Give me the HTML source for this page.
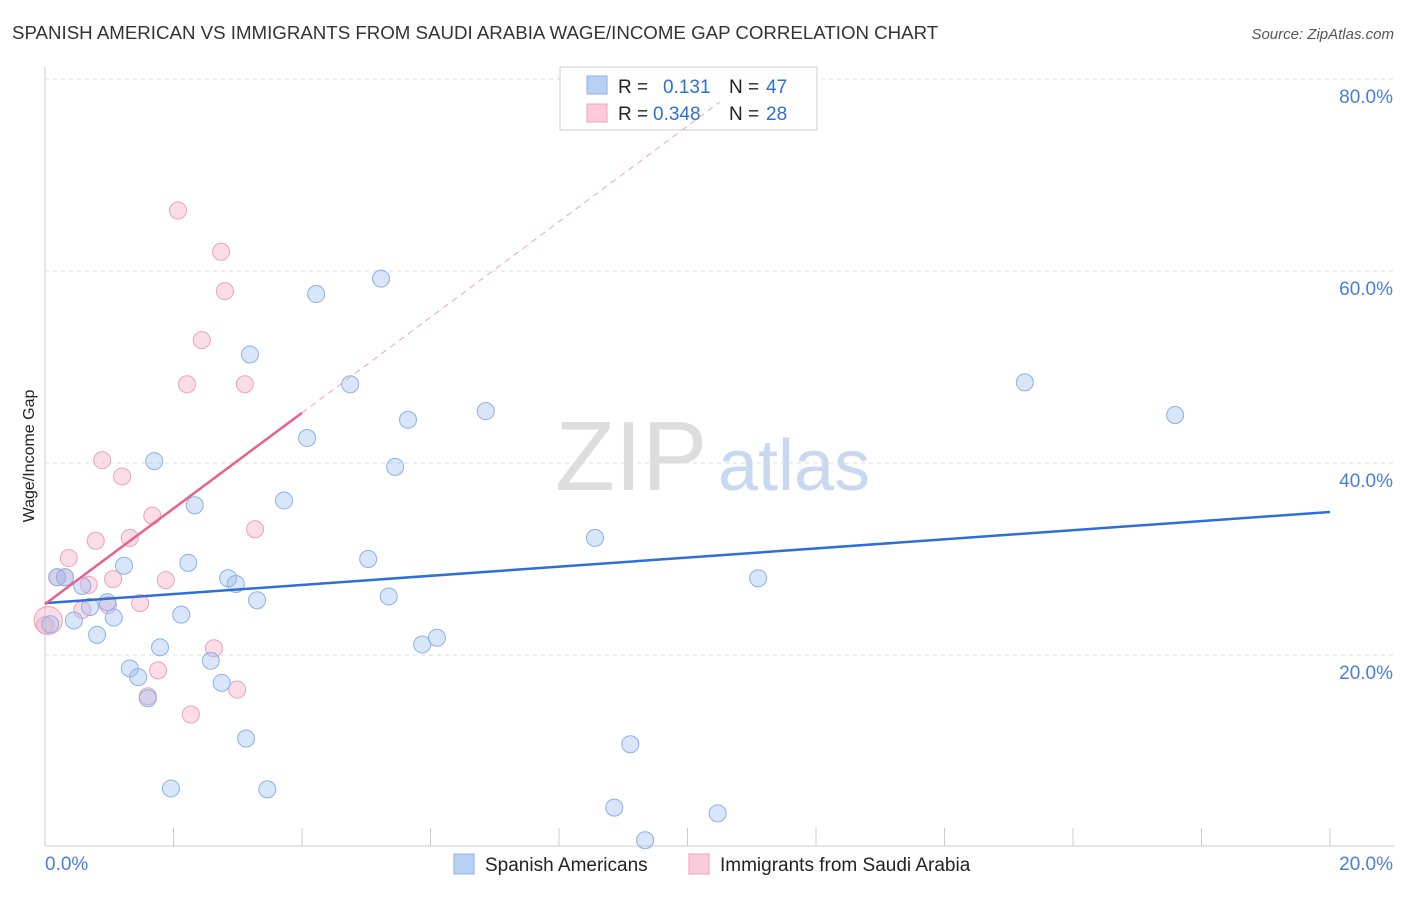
<!DOCTYPE html>
<html><head><meta charset="utf-8"><style>
body{margin:0;background:#fff;font-family:"Liberation Sans",sans-serif}
svg text{font-family:"Liberation Sans",sans-serif}
</style></head><body>
<svg id="c" width="1406" height="892" xmlns="http://www.w3.org/2000/svg">
<text x="12" y="39" font-size="18.7" fill="#333">SPANISH AMERICAN VS IMMIGRANTS FROM SAUDI ARABIA WAGE/INCOME GAP CORRELATION CHART</text>
<text x="1394" y="39" font-size="15" fill="#555" text-anchor="end" font-style="italic">Source: ZipAtlas.com</text>
<text transform="translate(34,456) rotate(-90)" font-size="16" fill="#222" text-anchor="middle">Wage/Income Gap</text>
<text x="555" y="490" font-size="98" fill="#ddd" font-family="Liberation Serif">ZIP</text>
<text x="718" y="490" font-size="72" fill="#c8d8f0">atlas</text>
<g id="grid"></g><g id="pts"></g>
<g>
<rect x="560" y="67" width="257" height="63" fill="rgba(255,255,255,0.85)" stroke="#ccc"/>
<rect x="587" y="76" width="20" height="18" fill="#b9d0f5" stroke="#8ab0e8"/>
<rect x="587" y="104" width="20" height="18" fill="#fbcadb" stroke="#f0a0bb"/>
<text x="618" y="93" font-size="19" fill="#222">R =</text><text x="663" y="93" font-size="19" fill="#2d6fd6">0.131</text>
<text x="729" y="93" font-size="19" fill="#222">N =</text><text x="766" y="93" font-size="19" fill="#2d6fd6">47</text>
<text x="618" y="120" font-size="19" fill="#222">R =</text><text x="653" y="120" font-size="19" fill="#2d6fd6">0.348</text>
<text x="729" y="120" font-size="19" fill="#222">N =</text><text x="766" y="120" font-size="19" fill="#2d6fd6">28</text>
</g>
<g id="lines"></g>
<g>
<rect x="454" y="854" width="20" height="20" fill="#b9d0f5" stroke="#8ab0e8"/>
<text x="485" y="871" font-size="19" fill="#222">Spanish Americans</text>
<rect x="689" y="854" width="20" height="20" fill="#fbcadb" stroke="#f0a0bb"/>
<text x="720" y="871" font-size="19" fill="#222">Immigrants from Saudi Arabia</text>
</g>
</svg>
<script>
const blueX=[0.19,0.31,0.08,0.45,0.58,0.70,0.81,0.97,1.07,1.23,1.32,1.45,1.60,1.70,1.79,1.96,2.12,2.23,2.33,2.58,2.75,2.85,2.97,3.13,3.19,3.30,3.46,3.72,4.08,4.22,4.75,5.03,5.23,5.35,5.45,5.65,5.87,6.10,6.86,8.56,8.86,9.11,9.34,10.47,11.10,15.25,17.59];
const blueY=[28.1,28.1,23.2,23.6,27.2,25.0,22.1,25.5,23.9,29.3,18.6,17.7,15.5,40.2,20.8,6.1,24.2,29.6,35.6,19.4,17.1,28.0,27.4,11.3,51.3,25.7,6.0,36.1,42.6,57.6,48.2,30.0,59.2,26.1,39.6,44.5,21.1,21.8,45.4,32.2,4.1,10.7,0.7,3.5,28.0,48.4,45.0];
const pinkX=[0.05,0.19,0.37,0.68,0.79,0.89,0.58,0.98,1.06,1.20,1.32,1.48,1.60,1.67,1.76,1.88,2.07,2.21,2.27,2.44,2.63,2.74,2.80,2.99,3.11,3.27,0.31,0.0];
const pinkY=[23.6,28.1,30.1,27.3,31.9,40.3,24.7,25.2,27.9,38.6,32.2,25.4,15.7,34.5,18.4,27.8,66.3,48.2,13.8,52.8,20.7,62.0,57.9,16.4,48.2,33.1,28.1,23.1];
const yTicks=[20,40,60,80];
const yTickLabels=["20.0%","40.0%","60.0%","80.0%"];
const blueTrend=[25.4,34.9];
const pinkTrend=[25.3,4.98];
const X=v=>45+v/20*1285, Y=v=>847-v*9.6;
const NS="http://www.w3.org/2000/svg";
function mk(p,t,a){const e=document.createElementNS(NS,t);for(const k in a)e.setAttribute(k,a[k]);p.appendChild(e);return e;}
const g=document.getElementById('grid');
yTicks.forEach((t,i)=>{const l=mk(g,'line',{x1:45,x2:1394,y1:Y(t),y2:Y(t),stroke:'#ddd','stroke-dasharray':'4,4'});


const tx=mk(g,'text',{x:1393,y:Y(t)+24,'font-size':19,fill:'#4a7fd4','text-anchor':'end'});tx.textContent=yTickLabels[i];

});
mk(g,'line',{x1:45,x2:45,y1:67,y2:846,stroke:'#ccc'});
mk(g,'line',{x1:45,x2:1394,y1:846,y2:846,stroke:'#ccc'});
for(let i=0;i<=10;i++){const t=mk(g,'line',{x1:X(i*2),x2:X(i*2),y1:828,y2:846,stroke:'#ccc'});

}
const x0=mk(g,'text',{x:45,y:870,'font-size':19,fill:'#4a7fd4'});x0.textContent='0.0%';


const x1=mk(g,'text',{x:1393,y:870,'font-size':19,fill:'#4a7fd4','text-anchor':'end'});x1.textContent='20.0%';


const P=document.getElementById('pts');
pinkX.forEach((x,i)=>{const c=mk(P,'circle',{cx:X(x),cy:Y(pinkY[i]),r:i==0?14:8.5,fill:'rgba(245,170,195,0.4)',stroke:'#f0a0bb','stroke-width':1});

});
blueX.forEach((x,i)=>{const c=mk(P,'circle',{cx:X(x),cy:Y(blueY[i]),r:8.5,fill:'rgba(160,190,240,0.4)',stroke:'#8ab0e8','stroke-width':1});

});
const L=document.getElementById('lines');
const bl=mk(L,'line',{x1:X(0),y1:Y(blueTrend[0]),x2:X(20),y2:Y(blueTrend[1]),stroke:'#2d6fd6','stroke-width':2.5});


const pl=mk(L,'line',{x1:X(0),y1:Y(pinkTrend[0]),x2:X(4),y2:Y(pinkTrend[0]+4*pinkTrend[1]),stroke:'#e8608f','stroke-width':2.5});


const pd=mk(L,'line',{x1:X(4),y1:Y(pinkTrend[0]+4*pinkTrend[1]),x2:X(10.5),y2:Y(pinkTrend[0]+10.5*pinkTrend[1]),stroke:'#f0a0bb','stroke-width':1,'stroke-dasharray':'6,5'});


</script>
</body></html>
